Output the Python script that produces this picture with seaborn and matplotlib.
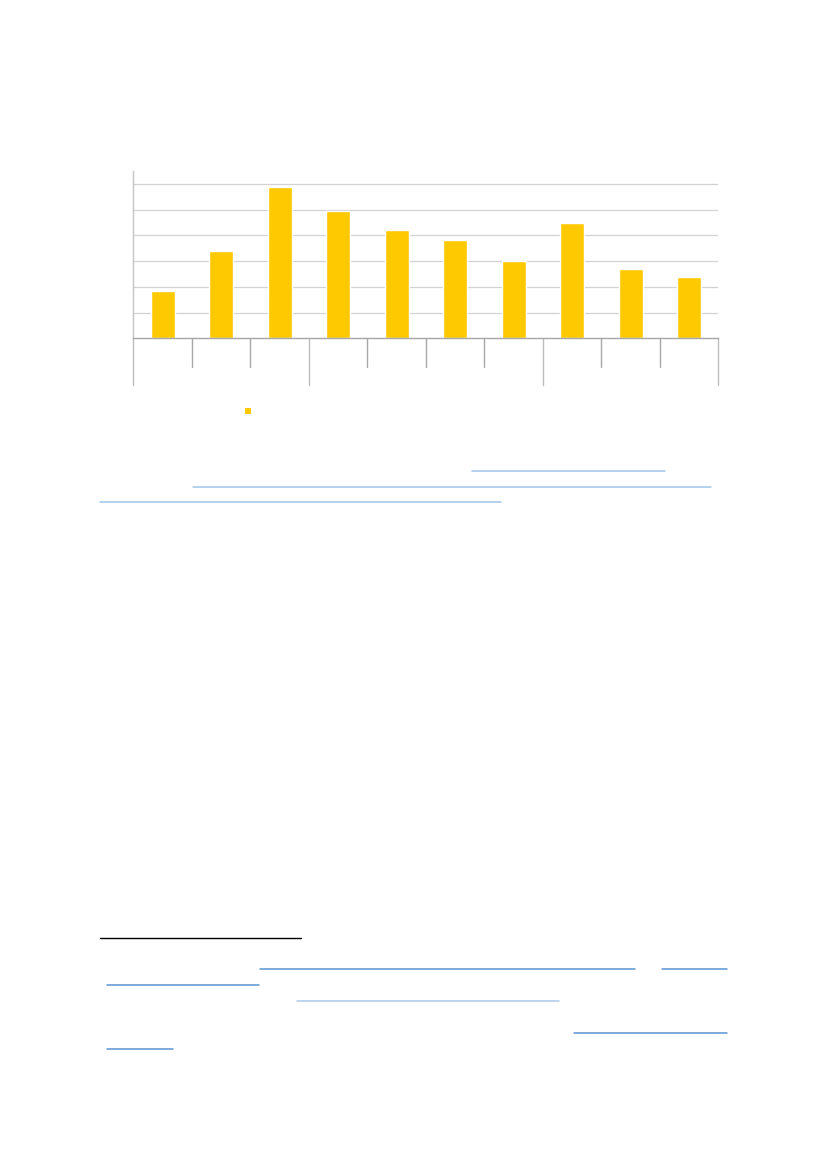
import matplotlib
matplotlib.use("Agg")
import matplotlib.pyplot as plt
import seaborn as sns
import pandas as pd
from matplotlib.lines import Line2D
from matplotlib.patches import Rectangle
from matplotlib.transforms import blended_transform_factory

# ---- data (no visible text in the reference; category ids are placeholders) ----
categories = ["A1", "A2", "A3", "B1", "B2", "B3", "B4", "C1", "C2", "C3"]
groups = ["A", "A", "A", "B", "B", "B", "B", "C", "C", "C"]
values = [1.84, 3.40, 5.89, 4.95, 4.21, 3.81, 3.00, 4.47, 2.68, 2.37]
gridlines = [1, 2, 3, 4, 5, 6]

W, H = 827, 1169
sns.set_theme(style="white")
plt.rcParams['font.family'] = ['DejaVu Sans']

fig = plt.figure(figsize=(W / 100, H / 100), dpi=100)
fig.patch.set_facecolor("white")


def fx(px):
    return px / W


def fy(py):
    return 1 - py / H


left, right, base, top = 133.3, 718.3, 338.3, 171.0
ax = fig.add_axes([fx(left), fy(base), fx(right) - fx(left), fy(top) - fy(base)])
ax.set_facecolor("white")

df = pd.DataFrame({"category": categories, "group": groups, "value": values})
sns.barplot(data=df, x="category", y="value", order=categories, color="#FFC900",
            saturation=1, width=0.41, ax=ax, zorder=2)

ax.set_xlim(-0.5, len(categories) - 0.5)
ax.set_ylim(0, 6.5)
for g in gridlines:
    ax.axhline(g, color="#d2d2d2", lw=0.9, zorder=0)

for s in ["top", "right"]:
    ax.spines[s].set_visible(False)
ax.spines["left"].set_color("#c4c4c4")
ax.spines["left"].set_linewidth(1.0)
ax.spines["bottom"].set_color("#a6a6a6")
ax.spines["bottom"].set_linewidth(1.0)
ax.set_xticks([])
ax.set_yticks([])
ax.set_xlabel("")
ax.set_ylabel("")

# two-level category axis separators
trans = blended_transform_factory(ax.transData, ax.transAxes)
ax_h = base - top
short_d = -28.4 / ax_h
long_d = -46.7 / ax_h
n = len(categories)
for i in range(n + 1):
    xb = i - 0.5
    is_group = (i == 0 or i == n or groups[i] != groups[i - 1])
    d = long_d if is_group else short_d
    col = "#bdbdbd" if is_group else "#a8a8a8"
    ax.add_line(Line2D([xb, xb], [0, d], transform=trans, color=col, lw=1.0,
                       clip_on=False))

# legend marker (legend text absent in the reference)
fig.add_artist(Rectangle((fx(245), fy(414)), 6 / W, 6 / H, transform=fig.transFigure,
                         facecolor="#FFC900", edgecolor="none"))

# page decorations: hyperlink underlines and footnote separator
light = "#9fc3e8"
dark = "#5b95d3"
segments = [
    (472, 665, 470.5, light),
    (193, 711, 486.7, light),
    (100, 501, 502.3, light),
    (260, 635, 969.0, dark),
    (662, 727, 969.0, dark),
    (107, 259, 985.3, dark),
    (297, 559, 1001.0, "#a9c7ea"),
    (574, 727, 1033.0, dark),
    (107, 173, 1049.3, dark),
]
fig.add_artist(Line2D([fx(100), fx(301)], [fy(938.3), fy(938.3)],
                      transform=fig.transFigure, color="black", lw=1.0))
for x0, x1, y, c in segments:
    fig.add_artist(Line2D([fx(x0), fx(x1)], [fy(y), fy(y)],
                          transform=fig.transFigure, color=c, lw=1.1))

fig.savefig("out.png", dpi=100, facecolor="white")
